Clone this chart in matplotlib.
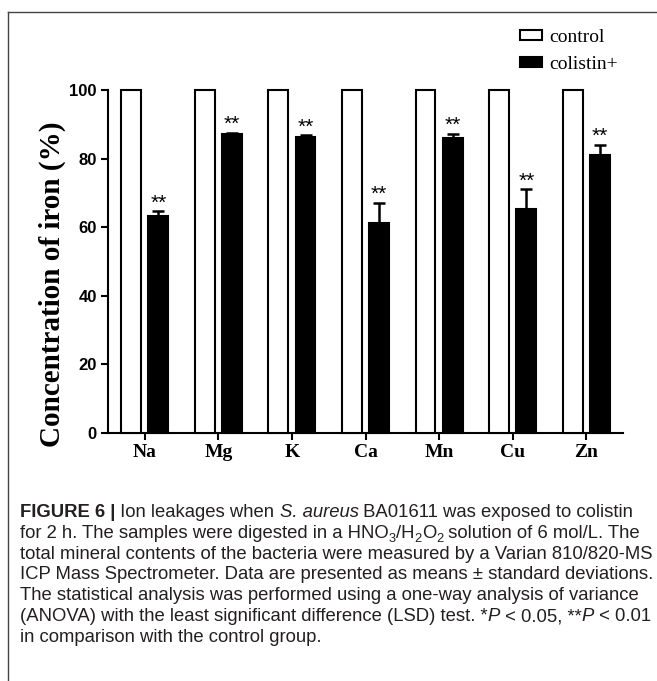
import matplotlib
matplotlib.use("Agg")
import matplotlib.pyplot as plt
import numpy as np
from matplotlib.lines import Line2D

categories = ["Na", "Mg", "K", "Ca", "Mn", "Cu", "Zn"]
control = [100, 100, 100, 100, 100, 100, 100]
colistin = [63.4, 87.2, 86.4, 61.2, 85.9, 65.2, 81.0]
colistin_err = [1.3, 0.4, 0.4, 6.0, 1.3, 5.8, 3.0]
signif = ["**", "**", "**", "**", "**", "**", "**"]
yticks = [0, 20, 40, 60, 80, 100]

W, H = 657, 681
fig = plt.figure(figsize=(W / 100, H / 100), dpi=100)

# outer frame (left and top borders)
fig.add_artist(Line2D([8/W, 8/W], [0, 1 - 12/H], color="#444444", lw=1.0))
fig.add_artist(Line2D([8/W, 1.0], [1 - 12/H, 1 - 12/H], color="#444444", lw=1.0))

ax = fig.add_axes([108/W, 1 - 433/H, (623 - 108)/W, (433 - 90)/H])
x = np.arange(len(categories))
w = 0.27
off = 0.185
ax.bar(x - off, control, width=w, color="white", edgecolor="black", linewidth=1.5,
       label="control", clip_on=False, zorder=3)
ax.bar(x + off, colistin, width=w, color="black", edgecolor="black", linewidth=1.5,
       label="colistin+", clip_on=False, zorder=3)
ax.errorbar(x + off, colistin, yerr=[np.zeros(len(colistin)), colistin_err], fmt="none",
            ecolor="black", elinewidth=1.8, capsize=4, capthick=1.8, zorder=4)
for xi, v, e, s in zip(x, colistin, colistin_err, signif):
    ax.annotate(s, (xi + off, v + e), xytext=(0, -1), textcoords="offset points",
                ha="center", va="bottom", fontsize=15, family="Liberation Sans")

ax.set_xlim(-0.5, len(categories) - 0.5)
ax.set_ylim(0, 100)
ax.set_yticks(yticks)
ax.set_yticklabels([str(t) for t in yticks], fontsize=12, fontweight="bold",
                   family="Liberation Sans")
ax.set_xticks(x)
ax.set_xticklabels(categories, fontsize=14, fontweight="bold", family="Liberation Serif")
ax.tick_params(axis="both", width=1.5, length=5, direction="out", pad=3)
for sp in ["top", "right"]:
    ax.spines[sp].set_visible(False)
for sp in ["left", "bottom"]:
    ax.spines[sp].set_linewidth(1.5)
ax.set_ylabel("Concentration of iron (%)", fontsize=21, fontweight="bold",
              family="Liberation Serif")
ax.yaxis.set_label_coords((66 - 108) / 515, (433 - 284) / 343)

leg = ax.legend(loc="upper left", bbox_to_anchor=(520/W, 1 - 29/H),
                bbox_transform=fig.transFigure, frameon=False,
                prop={"family": "Liberation Serif", "size": 14},
                handlelength=1.15, handleheight=0.45, handletextpad=0.35,
                labelspacing=0.5, borderpad=0, borderaxespad=0)

# caption
fs = 13.3
col = "#231f20"
fam = "Liberation Sans"

lines = [
    [("FIGURE 6 |", "b"), (" Ion leakages when ", "n"), ("S. aureus", "i"),
     (" BA01611 was exposed to colistin", "n")],
    [("for 2 h. The samples were digested in a HNO", "n"), ("3", "s"), ("/H", "n"),
     ("2", "s"), ("O", "n"), ("2", "s"), (" solution of 6 mol/L. The", "n")],
    [("total mineral contents of the bacteria were measured by a Varian 810/820-MS", "n")],
    [("ICP Mass Spectrometer. Data are presented as means \u00b1 standard deviations.", "n")],
    [("The statistical analysis was performed using a one-way analysis of variance", "n")],
    [("(ANOVA) with the least significant difference (LSD) test. *", "n"), ("P", "i"),
     (" < 0.05, **", "n"), ("P", "i"), (" < 0.01", "n")],
    [("in comparison with the control group.", "n")],
]
renderer = fig.canvas.get_renderer()
y0 = H - 517
dy = 20.8
for i, segs in enumerate(lines):
    yb = y0 - i * dy
    xp = 20.0
    for txt, st in segs:
        kw = dict(color=col, family=fam, fontsize=fs)
        yy = yb
        if st == "b":
            kw["fontweight"] = "bold"
        if st == "i":
            kw["style"] = "italic"
        if st == "s":
            kw["fontsize"] = fs * 0.7
            yy = yb - 4
        t = fig.text(xp / W, yy / H, txt, ha="left", va="baseline", **kw)
        xp += t.get_window_extent(renderer).width

fig.savefig("out.png", dpi=100)
